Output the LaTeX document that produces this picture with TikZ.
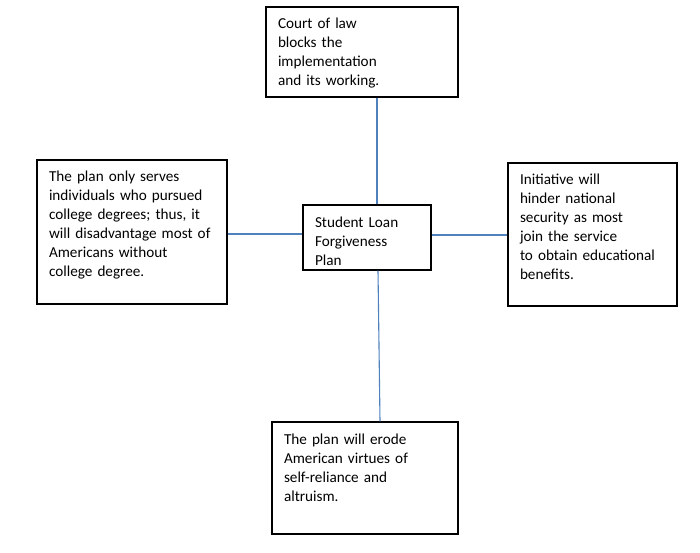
\documentclass[tikz,border=0pt]{standalone}
\usepackage{fontspec}
\setmainfont{Carlito}
\usetikzlibrary{positioning}
\definecolor{linkblue}{RGB}{79,129,189}

\begin{document}
\begin{tikzpicture}[
        x=1pt, y=-1pt,
        box/.style={rectangle, draw, line width=1.2pt, align=left, inner xsep=12pt, inner ysep=6pt, text height=16pt, font=\fontsize{15.2}{19}\selectfont},
        link/.style={draw=linkblue, line width=1.1pt}
    ]
        \useasboundingbox[fill=white] (0,0) rectangle (700,553);

        \node[box, text width=168pt, text depth=62pt] (court) at (362,52) {Court of law\\blocks the\\implementation\\and its working.};
        \node[box, text width=166pt, text depth=116pt] (serves) at (132,232) {The plan only serves\\individuals who pursued\\college degrees; thus, it\\will disadvantage most of\\Americans without\\college degree.};
        \node[box, text width=104pt, text depth=37pt] (plan) at (367,237.5) {Student Loan\\Forgiveness\\Plan};
        \node[box, text width=145pt, text depth=115pt] (security) at (592.5,234.5) {Initiative will\\hinder national\\security as most\\join the service\\to obtain educational\\benefits.};
        \node[box, text width=162pt, text depth=84pt] (erode) at (365,478) {The plan will erode\\American virtues of\\self-reliance and\\altruism.};

        \draw[link] ([xshift=10pt]plan.north) -- ([xshift=10pt]plan.north |- court.south);
        \draw[link] ([xshift=11pt]plan.south) -- ([xshift=15pt]erode.north);
        \draw[link] ([yshift=-2pt]serves.east) -- ([yshift=-2pt]serves.east -| plan.west);
        \draw[link] ([yshift=2.5pt]plan.east) -- ([yshift=2.5pt]plan.east -| security.west);
    \end{tikzpicture}
\end{document}
